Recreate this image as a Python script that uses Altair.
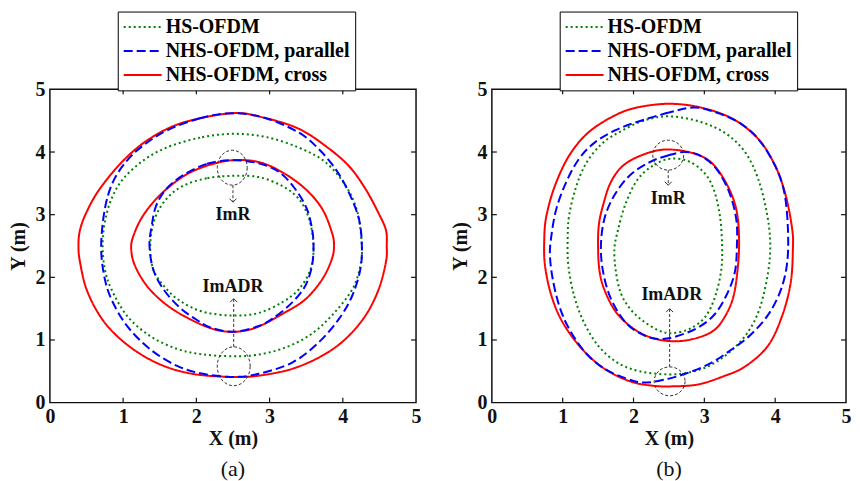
import altair as alt
import pandas as pd

# ---------------- data ----------------
SERIES = ["HS-OFDM", "NHS-OFDM, parallel", "NHS-OFDM, cross"]
TICKS = [0, 1, 2, 3, 4, 5]
INNER_TICKS = [1, 2, 3, 4]

# panel (a): closed contours (x, y) in metres
A_HS_OUT = [(2.50, 4.29), (2.05, 4.23), (1.59, 4.07), (1.27, 3.86), (1.00, 3.57), (0.84, 3.25), (0.75, 2.88),
            (0.72, 2.51), (0.75, 2.13), (0.84, 1.81), (1.05, 1.39), (1.36, 1.07), (1.73, 0.86), (2.09, 0.77),
            (2.50, 0.74), (2.81, 0.76), (3.17, 0.86), (3.54, 1.07), (3.85, 1.39), (4.13, 1.81), (4.24, 2.19),
            (4.26, 2.51), (4.20, 3.04), (4.04, 3.46), (3.76, 3.84), (3.40, 4.07), (2.95, 4.24)]
A_PAR_OUT = [(2.50, 4.62), (2.05, 4.54), (1.59, 4.34), (1.27, 4.10), (1.05, 3.86), (0.86, 3.52), (0.75, 3.09),
             (0.70, 2.51), (0.74, 2.03), (0.84, 1.65), (1.05, 1.23), (1.36, 0.86), (1.73, 0.59), (2.09, 0.46),
             (2.50, 0.41), (2.85, 0.46), (3.31, 0.64), (3.67, 0.96), (3.95, 1.34), (4.13, 1.71), (4.24, 2.13),
             (4.26, 2.51), (4.22, 2.93), (4.08, 3.36), (3.90, 3.73), (3.67, 4.05), (3.40, 4.31), (2.95, 4.54)]
A_CROSS_OUT = [(2.50, 4.62), (1.82, 4.47), (1.36, 4.21), (1.00, 3.86), (0.68, 3.41), (0.50, 3.04), (0.41, 2.75),
               (0.39, 2.50), (0.41, 2.25), (0.50, 1.81), (0.68, 1.39), (0.91, 1.07), (1.23, 0.78), (1.59, 0.57),
               (2.00, 0.45), (2.50, 0.41), (2.85, 0.43), (3.31, 0.54), (3.72, 0.75), (4.04, 1.02), (4.31, 1.39),
               (4.49, 1.81), (4.59, 2.25), (4.60, 2.50), (4.59, 2.75), (4.49, 3.02), (4.31, 3.41), (4.08, 3.78),
               (3.76, 4.10), (3.40, 4.37), (2.95, 4.54)]
A_HS_IN = [(2.50, 3.62), (2.14, 3.58), (1.82, 3.46), (1.59, 3.25), (1.43, 2.93), (1.37, 2.51), (1.41, 2.13),
           (1.55, 1.87), (1.77, 1.63), (2.09, 1.45), (2.50, 1.39), (2.85, 1.43), (3.17, 1.60), (3.40, 1.81),
           (3.56, 2.13), (3.60, 2.51), (3.54, 2.93), (3.40, 3.25), (3.17, 3.46), (2.85, 3.60)]
A_PAR_IN = [(2.50, 3.87), (2.14, 3.81), (1.82, 3.63), (1.59, 3.41), (1.45, 3.14), (1.39, 2.82), (1.36, 2.51),
            (1.41, 2.13), (1.55, 1.81), (1.77, 1.52), (1.98, 1.34), (2.19, 1.20), (2.50, 1.13), (2.82, 1.21),
            (3.04, 1.34), (3.31, 1.60), (3.49, 1.87), (3.58, 2.19), (3.60, 2.51), (3.58, 2.77), (3.51, 3.09),
            (3.35, 3.41), (3.13, 3.68), (2.85, 3.82)]
A_CROSS_IN = [(2.50, 3.87), (2.14, 3.78), (1.82, 3.61), (1.50, 3.31), (1.27, 2.98), (1.14, 2.66), (1.11, 2.45),
              (1.16, 2.19), (1.32, 1.87), (1.55, 1.60), (1.82, 1.39), (2.19, 1.19), (2.50, 1.13), (2.82, 1.20),
              (3.21, 1.44), (3.49, 1.65), (3.72, 1.97), (3.85, 2.29), (3.88, 2.51), (3.85, 2.72), (3.72, 3.09),
              (3.49, 3.41), (3.17, 3.68), (2.85, 3.84)]

# panel (b)
B_HS_OUT = [(2.50, 4.57), (2.14, 4.50), (1.82, 4.33), (1.55, 4.13), (1.32, 3.80), (1.18, 3.41), (1.09, 2.98),
            (1.07, 2.61), (1.08, 2.19), (1.16, 1.71), (1.30, 1.28), (1.50, 0.91), (1.77, 0.64), (2.09, 0.50),
            (2.50, 0.45), (2.82, 0.49), (3.09, 0.60), (3.35, 0.80), (3.60, 1.10), (3.78, 1.50), (3.90, 2.08),
            (3.93, 2.56), (3.88, 3.04), (3.76, 3.57), (3.58, 3.99), (3.31, 4.29), (2.95, 4.48)]
B_PAR_OUT = [(2.86, 4.71), (2.50, 4.63), (2.05, 4.48), (1.73, 4.34), (1.45, 4.15), (1.23, 3.89), (1.05, 3.52),
             (0.91, 3.09), (0.84, 2.66), (0.82, 2.35), (0.86, 1.97), (0.95, 1.55), (1.09, 1.18), (1.32, 0.80),
             (1.59, 0.54), (1.91, 0.38), (2.14, 0.32), (2.41, 0.36), (2.73, 0.46), (3.09, 0.63), (3.40, 0.86),
             (3.65, 1.08), (3.90, 1.40), (4.08, 1.80), (4.17, 2.24), (4.18, 2.77), (4.13, 3.35), (4.00, 3.78),
             (3.76, 4.21), (3.49, 4.47), (3.17, 4.63)]
B_CROSS_OUT = [(2.50, 4.77), (2.05, 4.71), (1.73, 4.58), (1.36, 4.31), (1.09, 3.94), (0.89, 3.46), (0.77, 2.98),
               (0.74, 2.61), (0.75, 2.19), (0.84, 1.71), (1.00, 1.28), (1.27, 0.86), (1.59, 0.54), (1.95, 0.34),
               (2.27, 0.27), (2.55, 0.26), (2.91, 0.29), (3.27, 0.42), (3.58, 0.58), (3.90, 0.91), (4.10, 1.39),
               (4.22, 1.92), (4.25, 2.45), (4.24, 2.77), (4.15, 3.30), (4.00, 3.78), (3.76, 4.21), (3.40, 4.53),
               (2.95, 4.71)]
B_HS_IN = [(2.50, 3.89), (2.27, 3.78), (2.05, 3.55), (1.88, 3.15), (1.78, 2.75), (1.73, 2.46), (1.75, 2.10),
           (1.82, 1.75), (1.95, 1.50), (2.14, 1.30), (2.36, 1.15), (2.55, 1.11), (2.80, 1.18), (3.02, 1.38),
           (3.16, 1.72), (3.24, 2.13), (3.25, 2.51), (3.22, 2.98), (3.13, 3.41), (2.99, 3.68), (2.76, 3.86)]
B_PAR_IN = [(2.73, 4.00), (2.50, 3.95), (2.23, 3.84), (1.95, 3.63), (1.73, 3.31), (1.59, 2.94), (1.54, 2.51),
            (1.57, 2.09), (1.68, 1.66), (1.88, 1.29), (2.10, 1.10), (2.32, 1.02), (2.55, 1.04), (2.88, 1.18),
            (3.13, 1.39), (3.31, 1.71), (3.43, 2.08), (3.46, 2.51), (3.45, 2.93), (3.35, 3.36), (3.17, 3.73),
            (2.95, 3.94)]
B_CROSS_IN = [(2.45, 4.04), (2.14, 3.96), (1.86, 3.79), (1.68, 3.52), (1.57, 3.15), (1.51, 2.83), (1.50, 2.46),
              (1.52, 2.10), (1.59, 1.80), (1.75, 1.45), (2.00, 1.18), (2.27, 1.03), (2.55, 0.98), (2.82, 1.01),
              (3.09, 1.12), (3.25, 1.30), (3.40, 1.65), (3.47, 2.13), (3.49, 2.61), (3.45, 3.09), (3.31, 3.50),
              (3.09, 3.84), (2.81, 3.99)]

# annotations: ring centres, arrows (x, y_from, y_to), labels (text, x, y)
A_RINGS = [(2.49, 3.75), (2.51, 0.58)]
A_ARROWS = [(2.50, 3.47, 3.20), (2.51, 0.89, 1.66)]
A_LABELS = [("ImR", 2.50, 2.99), ("ImADR", 2.50, 1.85)]
B_RINGS = [(2.49, 3.95), (2.51, 0.34)]
B_ARROWS = [(2.49, 3.71, 3.47), (2.51, 0.57, 1.50)]
B_LABELS = [("ImR", 2.49, 3.25), ("ImADR", 2.54, 1.72)]

# ---------------- styling ----------------
COLORS = ["#008000", "#0000ff", "#ff0000"]
DASHES = [[2, 3], [9, 4], [1, 0]]
A_RING_PX = [(30, 35), (33, 39)]
B_RING_PX = [(31, 30), (31, 29)]
H = 314
FONT = "Liberation Serif"
INK = "#111111"
FS = 20


def ellipse_path(w, h):
    m = float(max(w, h))
    rx, ry = w / m, h / m
    k = 0.5523
    f = lambda v: f"{v:.3f}"
    p = (f"M {f(rx)} 0 C {f(rx)} {f(k*ry)} {f(k*rx)} {f(ry)} 0 {f(ry)} "
         f"C {f(-k*rx)} {f(ry)} {f(-rx)} {f(k*ry)} {f(-rx)} 0 "
         f"C {f(-rx)} {f(-k*ry)} {f(-k*rx)} {f(-ry)} 0 {f(-ry)} "
         f"C {f(k*rx)} {f(-ry)} {f(rx)} {f(-k*ry)} {f(rx)} 0 Z")
    return p, m * m


def contour_frame(contours):
    rows = []
    for series, ring, pts in contours:
        for i, (x, y) in enumerate(pts):
            rows.append({"series": series, "ring": ring, "order": i, "x": x, "y": y})
    return pd.DataFrame(rows)


def make_panel(contours, rings, ring_px, arrows, labels, caption, legend_x, W):
    df = contour_frame(contours)
    xs = alt.Scale(domain=[0, 5], nice=False, zero=False)
    ys = alt.Scale(domain=[0, 5], nice=False, zero=False)
    common = dict(values=TICKS, tickSize=0, domain=False, grid=False, format="d",
                  labelFont=FONT, labelFontSize=FS, labelFontWeight="bold", labelColor=INK,
                  labelFlush=False, labelOverlap=False,
                  titleFont=FONT, titleFontSize=FS, titleFontWeight="bold", titleColor=INK)
    xaxis = alt.Axis(title="X (m)", labelPadding=4, titlePadding=2, **common)
    yaxis = alt.Axis(title="Y (m)", labelPadding=5, titlePadding=6, **common)

    def X(f):
        return alt.X(f, type="quantitative", scale=xs, axis=xaxis)

    def Y(f):
        return alt.Y(f, type="quantitative", scale=ys, axis=yaxis)

    # legend symbol: a 38px line drawn from a 19px symbol slot
    leg = alt.Legend(title=None, orient="none", legendX=legend_x, legendY=-78, direction="vertical",
                     symbolType="M -1 0 L 3 0", symbolSize=361, symbolStrokeWidth=2,
                     labelFont=FONT, labelFontSize=FS, labelFontWeight="bold", labelColor="black",
                     labelOffset=22, labelLimit=400, padding=5, rowPadding=3,
                     strokeColor="black", fillColor="white")
    color = alt.Color("series:N", scale=alt.Scale(domain=SERIES, range=COLORS), legend=leg)
    dash = alt.StrokeDash("series:N", scale=alt.Scale(domain=SERIES, range=DASHES), legend=leg)

    layers = []
    for s in [SERIES[2], SERIES[0], SERIES[1]]:
        layers.append(
            alt.Chart(df[df.series == s]).mark_line(interpolate="cardinal-closed", strokeWidth=2)
            .encode(x=X("x"), y=Y("y"), color=color, strokeDash=dash,
                    detail="ring:N", order="order:Q")
        )

    # inward ticks on all four sides
    tdf = pd.DataFrame({"t": INNER_TICKS})
    tick = dict(color=INK, strokeWidth=1.2)
    layers.append(alt.Chart(tdf).mark_rule(**tick).encode(x=X("t"), y=alt.value(H), y2=alt.value(H - 5)))
    layers.append(alt.Chart(tdf).mark_rule(**tick).encode(x=X("t"), y=alt.value(0), y2=alt.value(5)))
    layers.append(alt.Chart(tdf).mark_rule(**tick).encode(y=Y("t"), x=alt.value(0), x2=alt.value(5)))
    layers.append(alt.Chart(tdf).mark_rule(**tick).encode(y=Y("t"), x=alt.value(W), x2=alt.value(W - 5)))

    # dashed rings
    for (cx, cy), (w, h) in zip(rings, ring_px):
        path, size = ellipse_path(w, h)
        layers.append(
            alt.Chart(pd.DataFrame({"x": [cx], "y": [cy]}))
            .mark_point(shape=path, size=size, filled=False, stroke="#333333", strokeWidth=1,
                        strokeDash=[3, 2], opacity=1)
            .encode(x=X("x"), y=Y("y"))
        )
    # dashed arrows
    for ax, y0, y1 in arrows:
        layers.append(
            alt.Chart(pd.DataFrame({"x": [ax], "y": [y0], "y2": [y1]}))
            .mark_rule(color="#333333", strokeWidth=1, strokeDash=[3, 2])
            .encode(x=X("x"), y=Y("y"), y2="y2:Q")
        )
        head = "M -1 -1 L 0 0 L 1 -1" if y1 < y0 else "M -1 1 L 0 0 L 1 1"
        layers.append(
            alt.Chart(pd.DataFrame({"x": [ax], "y": [y1]}))
            .mark_point(shape=head, size=49, filled=False, stroke="#333333", strokeWidth=1, opacity=1)
            .encode(x=X("x"), y=Y("y"))
        )
    # labels
    ldf = pd.DataFrame([{"text": t, "x": x, "y": y} for t, x, y in labels])
    layers.append(
        alt.Chart(ldf).mark_text(font=FONT, fontSize=18, fontWeight="bold", color=INK)
        .encode(x=X("x"), y=Y("y"), text="text:N")
    )

    return alt.layer(*layers).properties(
        width=W, height=H,
        title=alt.TitleParams(caption, orient="bottom", font=FONT, fontSize=22, fontWeight="normal",
                              color=INK, offset=11, frame="group", anchor="middle"),
    )


pa = make_panel(
    [(SERIES[0], "out", A_HS_OUT), (SERIES[0], "in", A_HS_IN),
     (SERIES[1], "out", A_PAR_OUT), (SERIES[1], "in", A_PAR_IN),
     (SERIES[2], "out", A_CROSS_OUT), (SERIES[2], "in", A_CROSS_IN)],
    A_RINGS, A_RING_PX, A_ARROWS, A_LABELS, "(a)", 68, 367)
pb = make_panel(
    [(SERIES[0], "out", B_HS_OUT), (SERIES[0], "in", B_HS_IN),
     (SERIES[1], "out", B_PAR_OUT), (SERIES[1], "in", B_PAR_IN),
     (SERIES[2], "out", B_CROSS_OUT), (SERIES[2], "in", B_CROSS_IN)],
    B_RINGS, B_RING_PX, B_ARROWS, B_LABELS, "(b)", 68, 355)

chart = (
    alt.hconcat(pa, pb, spacing=28)
    .resolve_scale(color="independent", strokeDash="independent")
    .resolve_legend(color="independent", strokeDash="independent")
    .properties(padding={"left": 0, "top": 1, "right": 0, "bottom": 0}, background="white")
    .configure_view(stroke=INK, strokeWidth=1.5)
)

chart.save("out.html", embed_options={"renderer": "svg", "actions": False})
